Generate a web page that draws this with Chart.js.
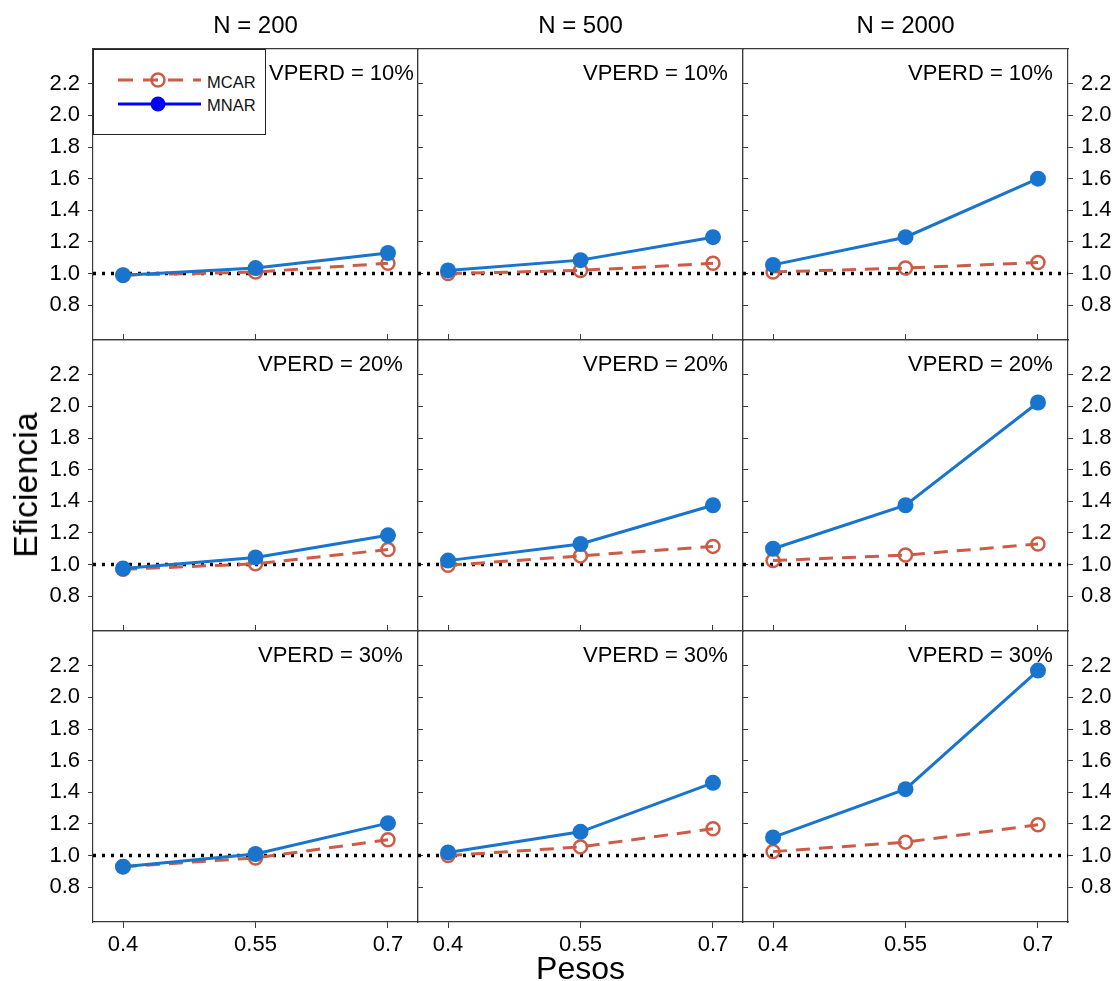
<!DOCTYPE html>
<html>
<head>
<meta charset="utf-8">
<script src="https://cdn.jsdelivr.net/npm/chart.js@4.4.0/dist/chart.umd.min.js"></script>
<style>
  body { margin: 0; background: #fff; font-family: "Liberation Sans", Arial, sans-serif; }
  #wrap { position: relative; width: 1116px; height: 981px; overflow: hidden; background: #fff; }
  #wrap canvas { position: absolute; }
  .lbl { position: absolute; white-space: nowrap; color: #000; line-height: 1; z-index: 5; }
  #legend { position: absolute; left: 93px; top: 49px; width: 173px; height: 86px; box-sizing: border-box;
            border: 1px solid #222; background: #fff; z-index: 6; }
</style>
</head>
<body>
<div id="wrap"></div>
<script>
// data
var pesos = [0.4, 0.55, 0.7];
var pesosLabels = ['0.4', '0.55', '0.7'];
var nLabels = ['N = 200', 'N = 500', 'N = 2000'];
var vperdLabels = ['VPERD = 10%', 'VPERD = 20%', 'VPERD = 30%'];
var yTicks = [0.8, 1.0, 1.2, 1.4, 1.6, 1.8, 2.0, 2.2];
var referencia = 1.0;

// each: [N=200, N=500, N=2000], values at pesos 0.4 / 0.55 / 0.7
var mcar10 = [[0.99, 1.01, 1.065], [1.00, 1.02, 1.065], [1.01, 1.035, 1.07]];
var mnar10 = [[0.99, 1.035, 1.13], [1.02, 1.085, 1.23], [1.055, 1.23, 1.60]];
var mcar20 = [[0.97, 1.005, 1.095], [0.995, 1.055, 1.115], [1.025, 1.06, 1.13]];
var mnar20 = [[0.975, 1.045, 1.185], [1.025, 1.13, 1.375], [1.10, 1.375, 2.025]];
var mcar30 = [[0.93, 0.985, 1.10], [1.00, 1.055, 1.17], [1.025, 1.085, 1.195]];
var mnar30 = [[0.93, 1.01, 1.205], [1.02, 1.15, 1.46], [1.115, 1.42, 2.17]];

var mcarRows = [mcar10, mcar20, mcar30];
var mnarRows = [mnar10, mnar20, mnar30];

var colMCAR = '#CD5B45';
var colMNAR = '#1874CD';

// axis limits & panel geometry
var xMin = 0.366, xMax = 0.734, yMin = 0.58, yMax = 2.42;
var panelL = 93, panelT = 49, panelW = 325, panelH = 291;
var padL = 70, padR = 70, padT = 30, padB = 50;

var wrap = document.getElementById('wrap');
var tickFont = { family: 'Liberation Sans', size: 22 };
var axisColor = '#3a3a3a';

function pts(vals) {
    return pesos.map(function (p, i) { return { x: p, y: vals[i] }; });
}

function fixSize(prop, size) {
    return function (scale) { scale[prop] = size; };
}

for (var r = 0; r < 3; r++) {
    for (var c = 0; c < 3; c++) {
        var cv = document.createElement('canvas');
        cv.width = padL + panelW + padR;
        cv.height = padT + panelH + padB;
        cv.style.left = (panelL + c * panelW - padL) + 'px';
        cv.style.top = (panelT + r * panelH - padT) + 'px';
        wrap.appendChild(cv);

        new Chart(cv, {
            type: 'line',
            data: {
                datasets: [{
                    label: 'MNAR',
                    data: pts(mnarRows[r][c]),
                    borderColor: colMNAR,
                    backgroundColor: colMNAR,
                    borderWidth: 3,
                    pointRadius: 8,
                    pointBorderWidth: 0,
                    pointBackgroundColor: colMNAR,
                    order: 1
                }, {
                    label: 'MCAR',
                    data: pts(mcarRows[r][c]),
                    borderColor: colMCAR,
                    borderWidth: 3,
                    borderDash: [14, 9],
                    pointRadius: 6.5,
                    pointBorderWidth: 2.5,
                    pointBorderColor: colMCAR,
                    pointBackgroundColor: 'rgba(0,0,0,0)',
                    order: 2
                }, {
                    label: 'ref',
                    data: [{ x: xMin, y: referencia }, { x: xMax, y: referencia }],
                    borderColor: '#000',
                    borderWidth: 3.5,
                    borderDash: [3, 6],
                    pointRadius: 0,
                    order: 3
                }]
            },
            options: {
                animation: false,
                responsive: false,
                devicePixelRatio: 1,
                events: [],
                layout: { padding: 0 },
                plugins: { legend: { display: false }, tooltip: { enabled: false } },
                scales: {
                    x: {
                        type: 'linear', position: 'bottom', min: xMin, max: xMax,
                        afterBuildTicks: function (s) { s.ticks = pesos.map(function (v) { return { value: v }; }); },
                        afterFit: fixSize('height', padB),
                        ticks: {
                            display: r === 2, font: tickFont, color: '#000', padding: 4, maxRotation: 0,
                            callback: function (v, i) { return pesosLabels[i]; }
                        },
                        grid: { drawOnChartArea: false, drawTicks: r === 2, tickLength: 6, color: axisColor },
                        border: { display: true, color: axisColor, width: 1.2 }
                    },
                    xTop: {
                        type: 'linear', position: 'top', min: xMin, max: xMax,
                        afterBuildTicks: function (s) { s.ticks = pesos.map(function (v) { return { value: v }; }); },
                        afterFit: fixSize('height', padT),
                        ticks: { display: false },
                        grid: { drawOnChartArea: false, drawTicks: r > 0, tickLength: 6, color: axisColor },
                        border: { display: true, color: axisColor, width: 1.2 }
                    },
                    y: {
                        type: 'linear', position: 'left', min: yMin, max: yMax,
                        afterBuildTicks: function (s) { s.ticks = yTicks.map(function (v) { return { value: v }; }); },
                        afterFit: fixSize('width', padL),
                        ticks: {
                            display: c === 0, font: tickFont, color: '#000', padding: 8,
                            callback: function (v) { return v.toFixed(1); }
                        },
                        grid: { drawOnChartArea: false, drawTicks: c === 0, tickLength: 5, color: axisColor },
                        border: { display: true, color: axisColor, width: 1.2 }
                    },
                    y2: {
                        type: 'linear', position: 'right', min: yMin, max: yMax,
                        afterBuildTicks: function (s) { s.ticks = yTicks.map(function (v) { return { value: v }; }); },
                        afterFit: fixSize('width', padR),
                        ticks: {
                            display: c === 2, font: tickFont, color: '#000', padding: 8,
                            callback: function (v) { return v.toFixed(1); }
                        },
                        grid: { drawOnChartArea: false, drawTicks: true, tickLength: 5, color: axisColor },
                        border: { display: true, color: axisColor, width: 1.2 }
                    }
                }
            }
        });
    }
}

// text: column headers, panel tags, axis titles
function addLabel(text, css) {
    var d = document.createElement('div');
    d.className = 'lbl';
    d.textContent = text;
    for (var k in css) d.style[k] = css[k];
    wrap.appendChild(d);
    return d;
}

// baseline offset for line-height:1 Liberation Sans ~ 0.8465 * size
for (var c2 = 0; c2 < 3; c2++) {
    addLabel(nLabels[c2], {
        left: (panelL + c2 * panelW) + 'px', width: panelW + 'px', textAlign: 'center',
        top: (33 - 0.8465 * 24) + 'px', fontSize: '24px'
    });
}
for (var r2 = 0; r2 < 3; r2++) {
    for (var c3 = 0; c3 < 3; c3++) {
        var off = (r2 === 0 && c3 === 0) ? 176 : 165;
        addLabel(vperdLabels[r2], {
            left: (panelL + c3 * panelW + off) + 'px',
            top: (panelT + r2 * panelH + 32 - 0.8465 * 22) + 'px', fontSize: '22px'
        });
    }
}
addLabel('Pesos', {
    left: (panelL) + 'px', width: (3 * panelW) + 'px', textAlign: 'center',
    top: (979 - 0.8465 * 32) + 'px', fontSize: '32px'
});
var ef = addLabel('Eficiencia', {
    left: '25px', top: '485px', fontSize: '34px',
    transform: 'translate(-50%, -50%) rotate(-90deg)'
});

// legend box
var lg = document.createElement('div');
lg.id = 'legend';
lg.innerHTML =
    '<svg width="171" height="84" xmlns="http://www.w3.org/2000/svg">' +
    '<line x1="24" y1="30" x2="107" y2="30" stroke="' + colMCAR + '" stroke-width="3" stroke-dasharray="15 10"/>' +
    '<circle cx="64" cy="30" r="6.5" fill="none" stroke="' + colMCAR + '" stroke-width="2.5"/>' +
    '<line x1="24" y1="54" x2="107" y2="54" stroke="#0000FF" stroke-width="3"/>' +
    '<circle cx="64" cy="54" r="7.5" fill="#0000FF"/>' +
    '<text x="113" y="37.5" font-family="Liberation Sans" font-size="16.5" fill="#111">MCAR</text>' +
    '<text x="113" y="61" font-family="Liberation Sans" font-size="16.5" fill="#111">MNAR</text>' +
    '</svg>';
wrap.appendChild(lg);
</script>
</body>
</html>
